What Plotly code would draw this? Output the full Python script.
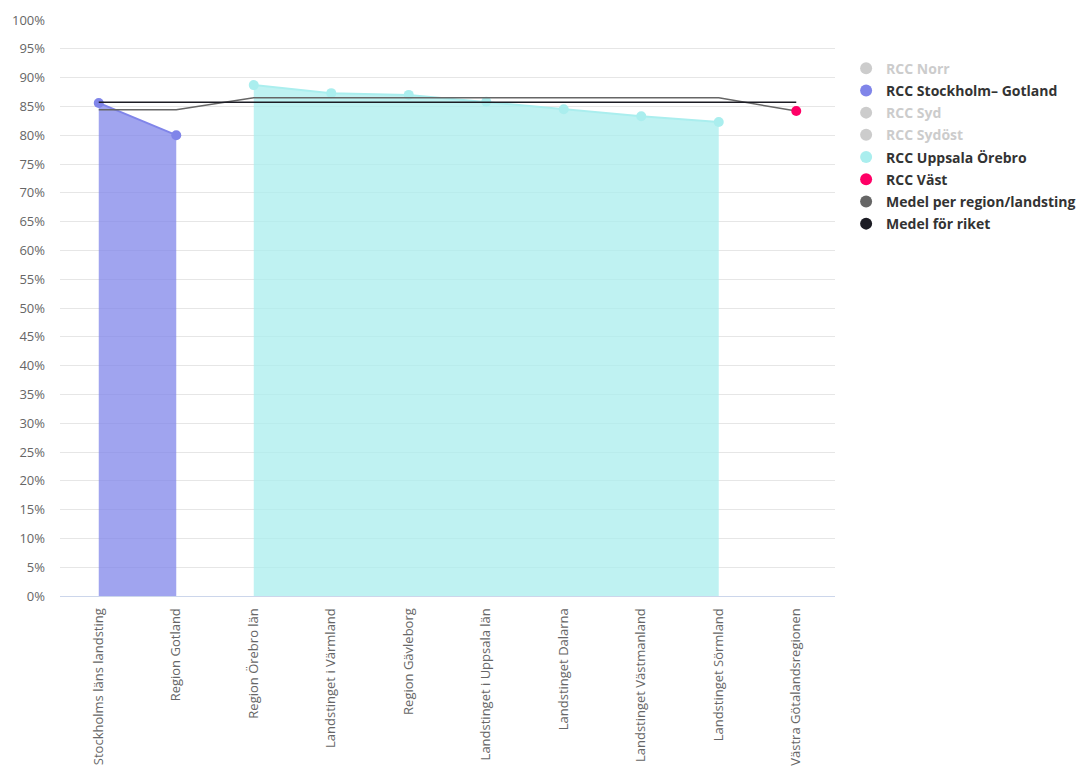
import plotly.graph_objects as go

categories = ["Stockholms läns landsting", "Region Gotland", "Region Örebro län",
              "Landstinget i Värmland", "Region Gävleborg", "Landstinget i Uppsala län",
              "Landstinget Dalarna", "Landstinget Västmanland", "Landstinget Sörmland",
              "Västra Götalandsregionen"]

stockholm_gotland = [85.6, 80.0, None, None, None, None, None, None, None, None]
uppsala_orebro = [None, None, 88.7, 87.3, 87.0, 85.8, 84.5, 83.3, 82.3, None]
vast = [None, None, None, None, None, None, None, None, None, 84.2]
medel_region = [84.4, 84.4, 86.5, 86.5, 86.5, 86.5, 86.5, 86.5, 86.5, 84.2]
medel_riket = [85.7] * 10

legend_names = ["RCC Norr", "RCC Stockholm– Gotland", "RCC Syd", "RCC Sydöst",
                "RCC Uppsala Örebro", "RCC Väst", "Medel per region/landsting", "Medel för riket"]
legend_colors = ["#cccccc", "#8085e9", "#cccccc", "#cccccc", "#aaeeee", "#ff0066", "#666666", "#1c1c24"]
legend_hidden = [True, False, True, True, False, False, False, False]

x = list(range(len(categories)))

fig = go.Figure()

# Areas
fig.add_trace(go.Scatter(x=x[:2], y=stockholm_gotland[:2], mode="lines+markers", fill="tozeroy",
                         line=dict(color="#8085e9", width=2), marker=dict(size=10, color="#8085e9"),
                         fillcolor="rgba(128,133,233,0.75)", showlegend=False, legendgroup="g1",
                         hovertemplate="%{y}%<extra>RCC Stockholm– Gotland</extra>"))
fig.add_trace(go.Scatter(x=x[2:9], y=uppsala_orebro[2:9], mode="lines+markers", fill="tozeroy",
                         line=dict(color="#aaeeee", width=2), marker=dict(size=10, color="#aaeeee"),
                         fillcolor="rgba(170,238,238,0.75)", showlegend=False, legendgroup="g4",
                         hovertemplate="%{y}%<extra>RCC Uppsala Örebro</extra>"))
# Mean lines
fig.add_trace(go.Scatter(x=x, y=medel_region, mode="lines", line=dict(color="#666666", width=1.5),
                         showlegend=False, legendgroup="g6"))
fig.add_trace(go.Scatter(x=x, y=medel_riket, mode="lines", line=dict(color="#1c1c24", width=1.5),
                         showlegend=False, legendgroup="g7"))
fig.add_trace(go.Scatter(x=[x[9]], y=[vast[9]], mode="markers", marker=dict(size=10, color="#ff0066"),
                         showlegend=False, legendgroup="g5"))

# Legend entries
for i, (n, c, h) in enumerate(zip(legend_names, legend_colors, legend_hidden)):
    txt_color = "#cccccc" if h else "#333333"
    fig.add_trace(go.Scatter(x=[None], y=[None], mode="markers",
                             marker=dict(size=14, color=c),
                             name=f"<span style='color:{txt_color}'><b>{n}</b></span>",
                             legendgroup=f"g{i}", showlegend=True))

fig.update_layout(
    width=1082, height=774,
    margin=dict(l=60, r=247, t=20, b=178),
    paper_bgcolor="white", plot_bgcolor="white",
    font=dict(family="Open Sans, sans-serif", size=13, color="#666666"),
    legend=dict(xref="container", yref="container", x=0.782, y=0.932, xanchor="left", yanchor="top",
                font=dict(size=14, color="#333333", family="Open Sans, sans-serif"),
                tracegroupgap=1, itemsizing="constant", bgcolor="rgba(0,0,0,0)"),
    xaxis=dict(tickmode="array", tickvals=x, ticktext=categories, tickangle=-90,
               range=[-0.5, 9.5], showgrid=False, showline=True, linecolor="#ccd6eb", linewidth=1,
               zeroline=False, ticks="", ticklabelstandoff=6, automargin=False,
               tickfont=dict(size=13, color="#666666")),
    yaxis=dict(range=[0, 100], tickmode="array", tickvals=list(range(0, 101, 5)),
               ticktext=[f"{v}%" for v in range(0, 101, 5)], showgrid=True, gridcolor="#e6e6e6",
               zeroline=False, ticks="", ticklabelstandoff=14, automargin=False,
               tickfont=dict(size=13, color="#666666")),
    hovermode="closest",
)

fig.write_html("out.html")
